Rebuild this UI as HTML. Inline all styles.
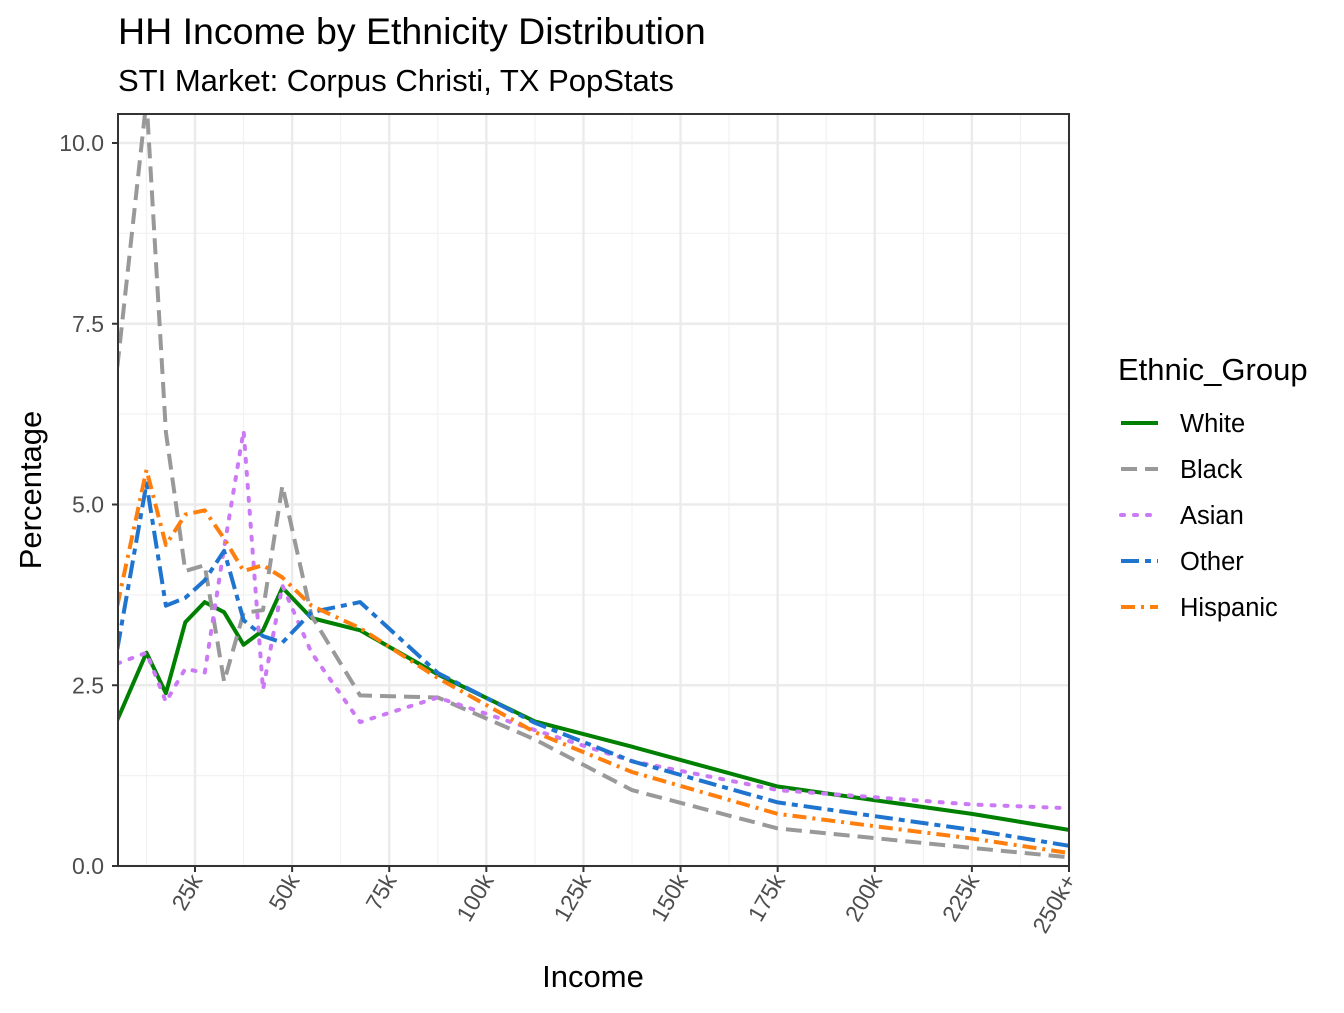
<!DOCTYPE html>
<html><head><meta charset="utf-8"><style>
body{margin:0;background:#fff}
svg text{font-family:"Liberation Sans",Arial,sans-serif}
</style></head><body>
<svg id="c" width="1344" height="1008" xmlns="http://www.w3.org/2000/svg">
<text x="118" y="44" font-size="37.5" fill="#000">HH Income by Ethnicity Distribution</text>
<text x="118" y="91" font-size="31" fill="#000">STI Market: Corpus Christi, TX PopStats</text>
<text x="593" y="987" font-size="31" text-anchor="middle">Income</text>
<text transform="translate(41,490) rotate(-90)" font-size="31" text-anchor="middle">Percentage</text>
<g id="grid"></g><g id="series"></g><g id="axes"></g><g id="legend"></g>
</svg>
<script>
const incomes=[5,12.5,17.5,22.5,27.5,32.5,37.5,42.5,47.5,55,67.5,87.5,112.5,137.5,175,225,250];
const groups=["White","Black","Asian","Other","Hispanic"];
const white=[2.02,2.95,2.39,3.37,3.65,3.51,3.06,3.26,3.85,3.43,3.26,2.65,2.0,1.65,1.1,0.72,0.5];
const black=[6.9,10.6,6.0,4.08,4.16,2.55,3.5,3.54,5.26,3.46,2.36,2.33,1.75,1.05,0.52,0.25,0.12];
const asian=[2.8,2.95,2.27,2.73,2.67,4.4,6.02,2.44,3.88,2.95,1.99,2.33,1.88,1.45,1.05,0.85,0.8];
const other=[3.0,5.29,3.6,3.71,3.95,4.36,3.4,3.18,3.09,3.51,3.65,2.67,1.98,1.45,0.88,0.5,0.28];
const hispanic=[3.6,5.48,4.44,4.86,4.92,4.53,4.08,4.16,3.99,3.6,3.29,2.6,1.85,1.3,0.72,0.38,0.18];
const yTicks=[0,2.5,5,7.5,10];
const yTickLabels=["0.0","2.5","5.0","7.5","10.0"];
const xTicks=[25,50,75,100,125,150,175,200,225,250];
const xTickLabels=["25k","50k","75k","100k","125k","150k","175k","200k","225k","250k+"];

const L=118,R=1069,T=114,B=866;
const X=v=>97.9+v*(R-97.9)/250;
const Y=v=>B-v*72.3;
const NS="http://www.w3.org/2000/svg";
function mk(t,a,p){const e=document.createElementNS(NS,t);for(const k in a)e.setAttribute(k,a[k]);p.appendChild(e);return e;}
const grid=document.getElementById('grid'),axes=document.getElementById('axes'),ser=document.getElementById('series'),leg=document.getElementById('legend');
const bg=mk('rect',{x:L,y:T,width:R-L,height:B-T,fill:'#fff'},grid);


for(let i=0;i<yTicks.length;i++){
  const mv=yTicks[i]+1.25;
  if(Y(mv)>T){const m=mk('line',{x1:L,x2:R,y1:Y(mv),y2:Y(mv),stroke:'#f2f2f2','stroke-width':1.2},grid);
  }
}
for(let i=0;i<xTicks.length;i++){
  const mv=xTicks[i]-12.5;
  if(X(mv)>L){const m=mk('line',{x1:X(mv),x2:X(mv),y1:T,y2:B,stroke:'#f2f2f2','stroke-width':1.2},grid);
  }
}
yTicks.forEach((v,i)=>{
  const g=mk('line',{x1:L,x2:R,y1:Y(v),y2:Y(v),stroke:'#ebebeb','stroke-width':2.4},grid);
  
  const tk=mk('line',{x1:L-6,x2:L,y1:Y(v),y2:Y(v),stroke:'#333','stroke-width':2},axes);
  
  const t=mk('text',{x:L-14,y:Y(v)+8,'font-size':23,fill:'#4d4d4d','text-anchor':'end'},axes);
  t.textContent=yTickLabels[i];
  
});
xTicks.forEach((v,i)=>{
  const g=mk('line',{x1:X(v),x2:X(v),y1:T,y2:B,stroke:'#ebebeb','stroke-width':2.4},grid);
  
  const tk=mk('line',{x1:X(v),x2:X(v),y1:B,y2:B+6,stroke:'#333','stroke-width':2},axes);
  
  const t=mk('text',{transform:`translate(${X(v)+8},${B+14}) rotate(-60)`,'font-size':23,fill:'#4d4d4d','text-anchor':'end'},axes);
  t.textContent=xTickLabels[i];
  
});
const border=mk('rect',{x:L,y:T,width:R-L,height:B-T,fill:'none',stroke:'#333','stroke-width':2},axes);

const cp=mk('clipPath',{id:'clip'},ser);mk('rect',{x:L,y:T,width:R-L,height:B-T},cp);
const data=[white,black,asian,other,hispanic];
const colors=["#008000","#999999","#cc79f5","#1f74d0","#ff7f0e"];
const dashes=["","16,8","3,10","18,6,6,6","14,6,3,6"];
const caps=["butt","butt","round","butt","butt"];
data.forEach((arr,si)=>{
  const d=arr.map((v,i)=>(i?'L':'M')+X(incomes[i]).toFixed(1)+','+Y(v).toFixed(1)).join('');
  const p=mk('path',{d,fill:'none',stroke:colors[si],'stroke-width':4,'stroke-dasharray':dashes[si],'stroke-linecap':caps[si],'stroke-linejoin':'round','clip-path':'url(#clip)'},ser);
  
  
});
const lt=mk('text',{x:1118,y:380,'font-size':31},leg);lt.textContent='Ethnic_Group';

groups.forEach((g,i)=>{
  const y=423+i*46;
  const k=mk('line',{x1:1121,x2:1158,y1:y,y2:y,stroke:colors[i],'stroke-width':4,'stroke-dasharray':dashes[i],'stroke-linecap':caps[i]},leg);
  
  const t=mk('text',{x:1180,y:y+9,'font-size':25.5},leg);t.textContent=g;
  
});
</script>
</body></html>
